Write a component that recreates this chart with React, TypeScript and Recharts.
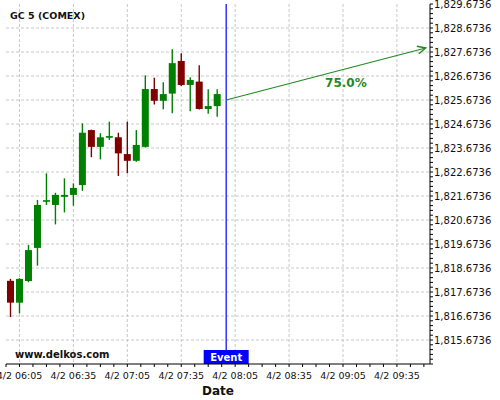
import React from 'react';
import { ComposedChart, Bar, XAxis, YAxis, CartesianGrid, ReferenceLine } from 'recharts';

// 5-minute candles, 4/2
const times = [
  '06:00', '06:05', '06:10', '06:15', '06:20', '06:25', '06:30', '06:35',
  '06:40', '06:45', '06:50', '06:55', '07:00', '07:05', '07:10', '07:15',
  '07:20', '07:25', '07:30', '07:35', '07:40', '07:45', '07:50', '07:55',
];
const opens = [
  1818.14, 1817.23, 1818.13, 1819.51, 1821.44, 1821.30, 1821.64, 1821.72,
  1822.13, 1824.42, 1823.72, 1824.10, 1824.12, 1823.42, 1823.14, 1823.72,
  1826.13, 1825.64, 1825.94, 1827.30, 1826.30, 1826.44, 1825.30, 1825.42,
];
const highs = [
  1818.22, 1818.25, 1819.63, 1821.51, 1822.62, 1821.81, 1822.41, 1822.20,
  1824.70, 1824.44, 1824.29, 1824.77, 1824.31, 1824.77, 1824.42, 1826.70,
  1826.60, 1826.41, 1827.79, 1827.62, 1826.62, 1827.12, 1826.12, 1826.12,
];
const lows = [
  1816.63, 1816.78, 1818.08, 1818.77, 1821.30, 1820.49, 1820.99, 1821.27,
  1821.89, 1823.29, 1823.20, 1824.01, 1822.51, 1822.62, 1823.10, 1823.69,
  1825.49, 1825.29, 1825.12, 1826.26, 1825.20, 1825.28, 1825.10, 1824.98,
];
const closes = [
  1817.23, 1818.22, 1819.42, 1821.30, 1821.50, 1821.72, 1821.72, 1822.01,
  1824.31, 1823.72, 1824.12, 1824.17, 1823.45, 1823.14, 1823.80, 1826.13,
  1825.64, 1825.92, 1827.21, 1826.30, 1826.51, 1825.30, 1825.42, 1825.92,
];

const dayLabel = '4/2';
const majorTimes = ['06:05', '06:35', '07:05', '07:35', '08:05', '08:35', '09:05', '09:35'];
const eventTime = '08:00';
const targetTime = '09:51';
const targetFrom = 1825.6736;
const targetTo = 1827.84;
const targetText = '75.0%';
const priceMin = 1814.6736;
const priceMax = 1829.6736;

const FONT = "'DejaVu Sans', sans-serif";
const UP = '#008000';
const DOWN = '#800000';

const toMin = (t: string) => {
  const [h, m] = t.split(':').map(Number);
  return (h - 6) * 60 + m;
};

const data = times.map((t, i) => ({
  t: toMin(t),
  open: opens[i],
  high: highs[i],
  low: lows[i],
  close: closes[i],
  range: [lows[i], highs[i]],
}));

const xMin = -2.5;
const xMax = 233.4;
const xTicks: number[] = [];
for (let v = xMin; v <= xMax; v += 7.5) xTicks.push(v);
const xMajors = majorTimes.map(toMin);

const yTicks: number[] = [];
for (let i = 0; i <= 75; i++) yTicks.push(priceMin + i * 0.2);
const yMajors: number[] = [];
for (let i = 1; i < 15; i++) yMajors.push(priceMin + i);

const fmtPrice = (v: number) => {
  const [a, b] = v.toFixed(4).split('.');
  return a.replace(/\B(?=(\d{3})+(?!\d))/g, ',') + '.' + b;
};

const fmtTime = (m: number) => {
  const h = Math.floor(m / 60) + 6;
  const mm = Math.round(m % 60);
  return `${dayLabel} ${String(h).padStart(2, '0')}:${String(mm).padStart(2, '0')}`;
};

const Candle = (props: any) => {
  const { x, y, width, height, payload } = props;
  const top = Math.min(y, y + height);
  const h = Math.abs(height);
  const { open, close, high, low } = payload;
  const ppu = h / (high - low || 1);
  const color = close >= open ? UP : DOWN;
  const bodyTop = top + (high - Math.max(open, close)) * ppu;
  const bodyH = Math.max(Math.abs(open - close) * ppu, 1.6);
  const cx = x + width / 2;
  return (
    <g>
      <line x1={cx} x2={cx} y1={top} y2={top + h} stroke={color} strokeWidth={1.4} />
      <rect x={x} y={bodyTop} width={width} height={bodyH} fill={color} />
    </g>
  );
};

const XTick = (props: any) => {
  const { x, y, payload } = props;
  const v = payload.value;
  if (!xMajors.some((m) => Math.abs(m - v) < 0.01)) return <g />;
  return (
    <text x={x} y={y} dy="0.71em" textAnchor="middle" fontSize={9.5} fontFamily={FONT} fill="#111">
      {fmtTime(v)}
    </text>
  );
};

const YTick = (props: any) => {
  const { x, y, payload, index } = props;
  if (index === 0 || index % 5 !== 0) return <g />;
  return (
    <text x={x} y={y} dy="0.355em" textAnchor="start" fontSize={10} fontFamily={FONT} fill="#111">
      {fmtPrice(payload.value)}
    </text>
  );
};

const EventLabel = (props: any) => {
  const { x, y, height } = props.viewBox;
  const bottom = y + height;
  return (
    <g>
      <rect x={x - 22.5} y={bottom - 14} width={45} height={14} fill="#0000ff" />
      <text x={x} y={bottom - 3.5} textAnchor="middle" fill="#fff" fontSize={10} fontWeight="bold" fontFamily={FONT}>
        Event
      </text>
    </g>
  );
};

const TargetArrow = (props: any) => {
  const { x1, y1, x2, y2 } = props;
  const ang = Math.atan2(y2 - y1, x2 - x1);
  const len = 9;
  const a1 = ang + Math.PI - 0.45;
  const a2 = ang + Math.PI + 0.45;
  const tx = x1 + (x2 - x1) * 0.6;
  const ty = y1 + (y2 - y1) * 0.6;
  return (
    <g>
      <line x1={x1} y1={y1} x2={x2} y2={y2} stroke="#228b22" strokeWidth={1.2} />
      <polyline
        points={`${x2 + len * Math.cos(a1)},${y2 + len * Math.sin(a1)} ${x2},${y2} ${x2 + len * Math.cos(a2)},${y2 + len * Math.sin(a2)}`}
        fill="none"
        stroke="#228b22"
        strokeWidth={1.4}
      />
      <text x={tx} y={ty + 18} textAnchor="middle" fill="#228b22" fontSize={12} fontWeight="bold" fontFamily={FONT}>
        {targetText}
      </text>
    </g>
  );
};

const DateLabel = (props: any) => {
  const { x, y, width, height } = props.viewBox;
  return (
    <text x={x + width / 2} y={y + height - 5} textAnchor="middle" fontSize={12} fontWeight="bold" fontFamily={FONT} fill="#111">
      Date
    </text>
  );
};

export default function App() {
  return (
    <div style={{ position: 'absolute', left: 0, top: 0, width: 500, height: 400, background: '#fff' }}>
      <ComposedChart width={500} height={400} data={data} margin={{ top: 4, right: 0, bottom: 0, left: 6 }}>
        <CartesianGrid
          horizontalValues={yMajors}
          verticalValues={xMajors}
          stroke="#c8c8c8"
          strokeDasharray="3 2"
        />
        <XAxis
          dataKey="t"
          type="number"
          domain={[xMin, xMax]}
          ticks={xTicks}
          interval={0}
          height={36}
          stroke="#000"
          tickSize={3}
          tickMargin={5}
          tick={<XTick />}
          label={<DateLabel />}
          allowDataOverflow
        />
        <YAxis
          orientation="right"
          type="number"
          domain={[priceMin, priceMax]}
          ticks={yTicks}
          interval={0}
          width={70}
          stroke="#000"
          tickSize={3}
          tickMargin={1}
          tick={<YTick />}
          allowDataOverflow
        />
        <Bar dataKey="range" barSize={7} shape={<Candle />} isAnimationActive={false} />
        <ReferenceLine x={toMin(eventTime)} stroke="#0000ff" strokeWidth={1.2} label={<EventLabel />} />
        <ReferenceLine
          segment={[
            { x: toMin(eventTime), y: targetFrom },
            { x: toMin(targetTime), y: targetTo },
          ]}
          shape={<TargetArrow />}
        />
      </ComposedChart>
      <svg width={500} height={400} style={{ position: 'absolute', left: 0, top: 0, pointerEvents: 'none' }}>
        <text x={10} y={19} fontSize={9.5} fontWeight="bold" fontFamily={FONT} fill="#111">
          GC 5 (COMEX)
        </text>
        <text x={15} y={358} fontSize={10} fontWeight="bold" fontFamily={FONT} fill="#111">
          www.delkos.com
        </text>
      </svg>
    </div>
  );
}
